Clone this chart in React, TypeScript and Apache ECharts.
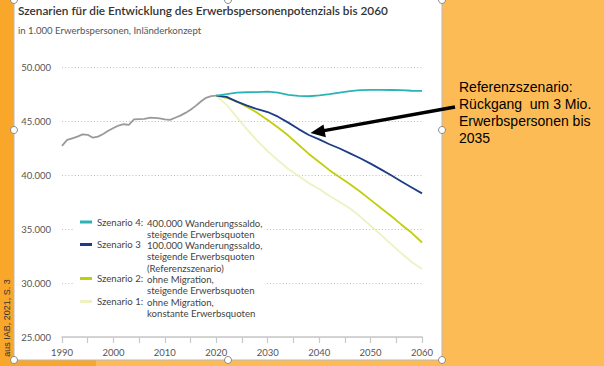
import React, { useEffect, useRef } from "react";
import * as echarts from "echarts";

// ---------- data ----------
const histYears = [1990, 1991, 1992, 1993, 1994, 1995, 1996, 1997, 1998, 1999, 2000, 2001, 2002, 2003, 2004, 2005, 2006, 2007, 2008, 2009, 2010, 2011, 2012, 2013, 2014, 2015, 2016, 2017, 2018, 2019, 2020];
const histValues = [42700, 43250, 43400, 43550, 43760, 43720, 43450, 43550, 43800, 44100, 44350, 44580, 44700, 44650, 45150, 45180, 45200, 45300, 45290, 45250, 45150, 45100, 45300, 45500, 45750, 46050, 46400, 46800, 47150, 47300, 47340];

const scenYears = [2020, 2022, 2024, 2026, 2028, 2030, 2032, 2034, 2036, 2038, 2040, 2042, 2044, 2046, 2048, 2050, 2052, 2054, 2056, 2058, 2060];
const scenario4 = [47340, 47480, 47630, 47660, 47680, 47720, 47620, 47420, 47320, 47290, 47380, 47480, 47620, 47760, 47850, 47880, 47880, 47870, 47860, 47800, 47790];
const scenario3 = [47340, 47230, 46800, 46420, 46090, 45830, 45400, 44850, 44250, 43700, 43300, 42850, 42450, 42000, 41550, 41050, 40520, 39970, 39400, 38850, 38300];
const scenario2 = [47340, 47150, 46800, 46300, 45750, 45100, 44400, 43650, 42800, 41950, 41200, 40450, 39800, 39150, 38450, 37700, 36950, 36200, 35400, 34650, 33750];
const scenario1 = [47340, 46500, 45340, 44200, 43150, 42200, 41350, 40550, 39900, 39250, 38700, 38050, 37500, 36900, 36150, 35300, 34450, 33600, 32750, 31950, 31300];

const legendNames = ["Szenario 4:", "Szenario 3", "Szenario 2:", "Szenario 1:"];
const legendDescs = [
  "400.000 Wanderungssaldo,\nsteigende Erwerbsquoten",
  "100.000 Wanderungssaldo,\nsteigende Erwerbsquoten\n(Referenzszenario)",
  "ohne Migration,\nsteigende Erwerbsquoten",
  "ohne Migration,\nkonstante Erwerbsquoten",
];
const seriesColors = ["#2BB3B6", "#1C3D86", "#C2CE0C", "#EEF1C2"];
const histColor = "#9A9A9A";

const titleText = "Szenarien für die Entwicklung des Erwerbspersonenpotenzials bis 2060";
const subtitleText = "in 1.000 Erwerbspersonen, Inländerkonzept";
const noteText = "Referenzszenario:\nRückgang  um 3 Mio.\nErwerbspersonen bis\n2035";
const sourceText = "aus IAB, 2021, S. 3";

const FONT = "Lato, 'Noto Sans', sans-serif";
const ARIAL = "'Liberation Sans', Arial, sans-serif";

function fmtThousands(v: number): string {
  const t = Math.floor(v / 1000);
  const r = Math.round(v % 1000);
  return t + "." + String(r).padStart(3, "0");
}

export default function App() {
  const ref = useRef<HTMLDivElement>(null);
  useEffect(() => {
    if (!ref.current) return;
    const chart = echarts.init(ref.current, null, { renderer: "svg" });

    const scen = [scenario4, scenario3, scenario2, scenario1];
    const legendCenters = [223, 245.5, 279.5, 302.5];

    const handles = [
      [14, 0], [228, 0], [442, 0], [14, 130], [442, 130], [14, 360], [228, 360], [442, 360],
    ];

    const graphic: any[] = [
      // backgrounds
      { type: "rect", z: -10, silent: true, shape: { x: 0, y: 0, width: 14, height: 366 }, style: { fill: "#F8A72A" } },
      { type: "rect", z: -10, silent: true, shape: { x: 0, y: 360, width: 96, height: 6 }, style: { fill: "#F8A72A" } },
      { type: "rect", z: -10, silent: true, shape: { x: 14, y: -2, width: 428, height: 362 }, style: { fill: "#FFFFFF", stroke: "#B8B8B8", lineWidth: 1 } },
      // legend box
      { type: "rect", z: 1, silent: true, shape: { x: 73, y: 212, width: 193, height: 110 }, style: { fill: "#FFFFFF" } },
      // title/subtitle
      { type: "text", z: 5, x: 18, y: 10, style: { text: titleText, fontSize: 11.8, fontWeight: 600, fontFamily: FONT, fill: "#333333", verticalAlign: "middle" } },
      { type: "text", z: 5, x: 18, y: 30, style: { text: subtitleText, fontSize: 9.6, fontFamily: FONT, fill: "#555555", verticalAlign: "middle" } },
      // source
      { type: "text", z: 5, x: 7, y: 318, rotation: Math.PI / 2, style: { text: sourceText, fontSize: 9, fontFamily: ARIAL, fill: "#333333", align: "center", verticalAlign: "middle" } },
      // annotation
      { type: "text", z: 5, x: 459, y: 78, style: { text: noteText, fontSize: 14, lineHeight: 17.2, fontFamily: ARIAL, fill: "#000000", verticalAlign: "top" } },
      { type: "line", z: 6, silent: true, shape: { x1: 455, y1: 107, x2: 324, y2: 130.6 }, style: { stroke: "#000000", lineWidth: 3.5 } },
      { type: "polygon", z: 6, silent: true, shape: { points: [[310.5, 133], [325.9, 137.2], [323.5, 124.4]] }, style: { fill: "#000000" } },
    ];
    legendDescs.forEach((d, i) => {
      graphic.push({
        type: "text", z: 5, x: 147, y: legendCenters[i] - 5.5,
        style: { text: d, fontSize: 9.6, lineHeight: 11.2, fontFamily: FONT, fill: "#444444", verticalAlign: "top" },
      });
    });
    handles.forEach(([x, y]) => {
      graphic.push({ type: "circle", z: 20, silent: true, shape: { cx: x, cy: y, r: 3.5 }, style: { fill: "#FFFFFF", stroke: "#8A8A8A", lineWidth: 1 } });
    });

    const series: any[] = [
      {
        name: "Ist",
        type: "line",
        data: histYears.map((y, i) => [y, histValues[i]]),
        showSymbol: false,
        lineStyle: { color: histColor, width: 1.8 },
        itemStyle: { color: histColor },
        silent: true,
        z: 3,
      },
    ];
    // draw scenario 1 first so darker lines sit on top
    [3, 2, 1, 0].forEach((i) => {
      series.push({
        name: legendNames[i],
        type: "line",
        data: scenYears.map((y, k) => [y, scen[i][k]]),
        showSymbol: false,
        lineStyle: { color: seriesColors[i], width: 1.8 },
        itemStyle: { color: seriesColors[i] },
        silent: true,
        z: 3,
      });
    });

    chart.setOption({
      animation: false,
      backgroundColor: "#FCBB55",
      grid: { left: 62, right: 182, top: 67, bottom: 29 },
      xAxis: {
        type: "value",
        min: 1990,
        max: 2060,
        interval: 5,
        axisLine: { lineStyle: { color: "#C8C8C8", width: 1.5 } },
        axisTick: { show: true, length: 6, lineStyle: { color: "#C8C8C8", width: 1.2 } },
        axisLabel: {
          formatter: (v: number) => (v % 10 === 0 ? String(v) : ""),
          color: "#555555",
          fontSize: 9.5,
          fontFamily: FONT,
          margin: 10,
        },
        splitLine: { show: false },
      },
      yAxis: {
        type: "value",
        min: 25000,
        max: 50000,
        interval: 5000,
        axisLine: { show: false },
        axisTick: { show: false },
        axisLabel: { formatter: fmtThousands, color: "#555555", fontSize: 9.5, fontFamily: FONT, margin: 11 },
        splitLine: { lineStyle: { color: "#BDBDBD", type: [1, 2.2], width: 1 } },
      },
      legend: legendNames.map((n, i) => ({
        data: [n],
        left: 80,
        top: legendCenters[i] - 6,
        icon: "rect",
        itemWidth: 12,
        itemHeight: 3,
        itemGap: 0,
        padding: 0,
        selectedMode: false,
        z: 6,
        textStyle: { fontSize: 9.6, color: "#444444", fontFamily: FONT, padding: [0, 0, 0, 0] },
      })),
      series,
      graphic,
    });
    return () => chart.dispose();
  }, []);
  return <div ref={ref} style={{ position: "fixed", left: 0, top: 0, width: 604, height: 366 }} />;
}
